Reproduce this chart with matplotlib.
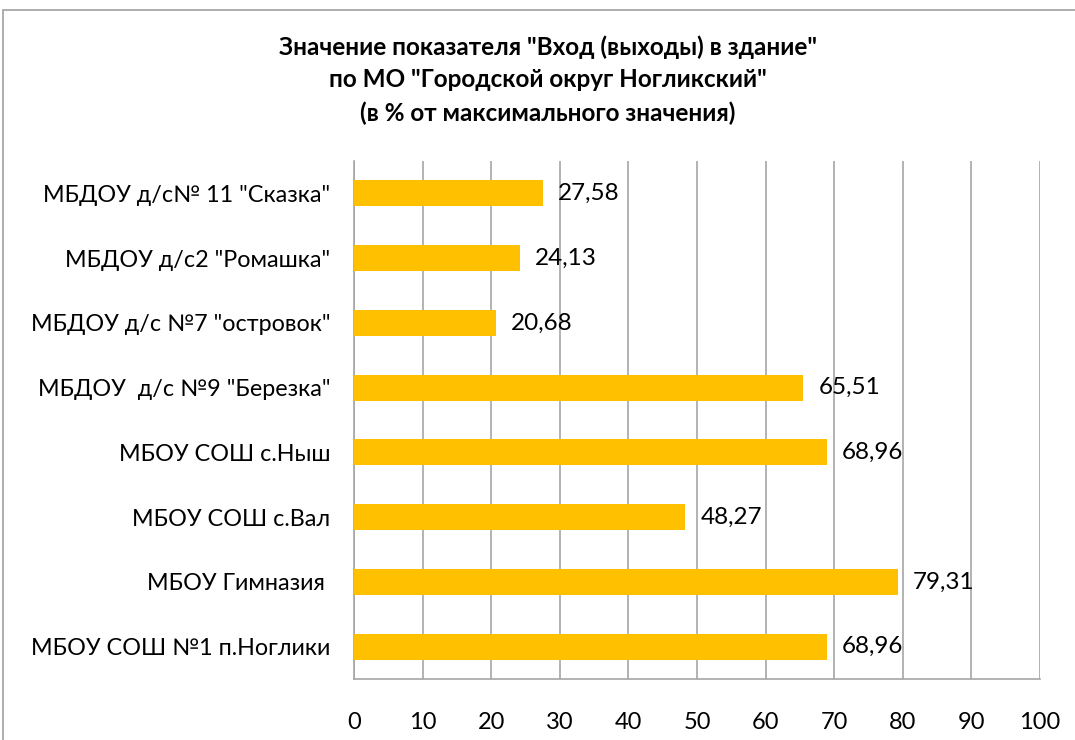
import matplotlib.pyplot as plt
from matplotlib.patches import Rectangle

# data (top to bottom as in the chart)
categories = [
    'МБДОУ д/с№ 11 "Сказка"',
    'МБДОУ д/с2 "Ромашка"',
    'МБДОУ д/с №7 "островок"',
    'МБДОУ  д/с №9 "Березка"',
    'МБОУ СОШ с.Ныш',
    'МБОУ СОШ с.Вал',
    'МБОУ Гимназия ',
    'МБОУ СОШ №1 п.Ноглики',
]
values = [27.58, 24.13, 20.68, 65.51, 68.96, 48.27, 79.31, 68.96]
value_labels = ['27,58', '24,13', '20,68', '65,51', '68,96', '48,27', '79,31', '68,96']
x_ticks = [0, 10, 20, 30, 40, 50, 60, 70, 80, 90, 100]

plt.rcParams['font.family'] = ['Lato', 'DejaVu Sans']

fig = plt.figure(figsize=(10.75, 7.4), dpi=100)
ax = fig.add_axes([354 / 1075, 1 - 679 / 740, 686 / 1075, 518 / 740])

# outer chart frame
fig.patches.append(Rectangle((3 / 1075, -0.05), 1.1, 1 - 10 / 740 + 0.05,
                             transform=fig.transFigure, fill=False,
                             edgecolor='#a0a0a0', linewidth=1.2))

y = list(range(len(categories)))
ax.barh(y, values, height=0.4, color='#FFC000', zorder=3)
for yi, v, lab in zip(y, values, value_labels):
    ax.text(v + 2.2, yi, lab, va='center', ha='left', fontsize=17.5, zorder=4)

ax.set_ylim(len(categories) - 0.5, -0.5)
ax.set_xlim(0, 100)
ax.set_yticks(y)
ax.set_yticklabels(categories, fontsize=16.8)
ax.set_xticks(x_ticks)
ax.set_xticklabels([str(t) for t in x_ticks], fontsize=17)
ax.tick_params(axis='y', length=0, pad=17)
ax.tick_params(axis='x', length=0, pad=24)

ax.grid(axis='x', color='#a6a6a6', linewidth=1.2, zorder=0)
for s in ['top', 'right']:
    ax.spines[s].set_visible(False)
ax.spines['left'].set_color('#a6a6a6')
ax.spines['bottom'].set_color('#a6a6a6')
ax.spines['left'].set_linewidth(1.2)
ax.spines['bottom'].set_linewidth(1.2)

fig.text(548 / 1075, 1 - 80 / 740,
         'Значение показателя "Вход (выходы) в здание"\n'
         'по МО "Городской округ Ногликский"\n'
         '(в % от максимального значения)',
         ha='center', va='center', fontsize=17.5, fontweight='bold', linespacing=1.5)

fig.savefig('out.png', dpi=100)
